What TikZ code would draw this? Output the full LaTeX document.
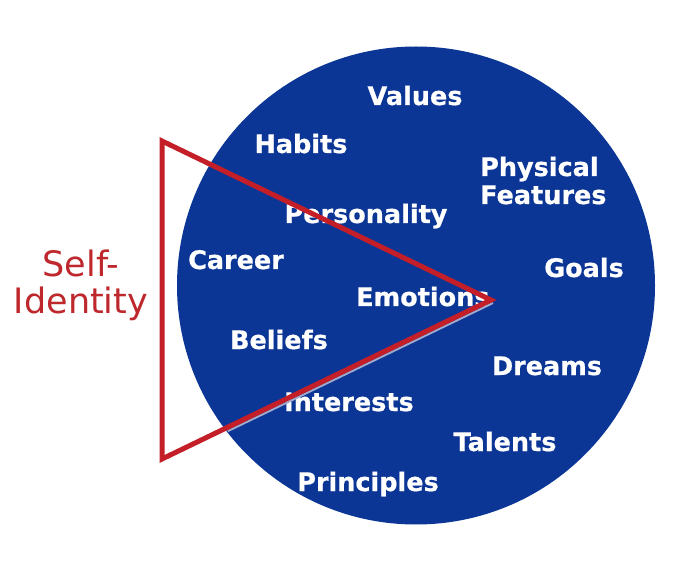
\documentclass[tikz,border=0pt]{standalone}
\usepackage{fontspec}
\setmainfont{DejaVu Sans}
\newfontfamily\labfont[FakeBold=0.6]{DejaVu Sans Bold}
\definecolor{discblue}{RGB}{12,54,150}
\definecolor{trired}{RGB}{196,30,40}
\definecolor{labred}{RGB}{190,40,45}
\definecolor{shadowcol}{RGB}{160,170,205}
\begin{document}
\begin{tikzpicture}[x=1pt,y=-1pt,
  lab/.style={text=white,font=\labfont\fontsize{25.5}{26}\selectfont,inner sep=0pt,anchor=base},
  labw/.style={lab,anchor=base west}]
\useasboundingbox (0,0) rectangle (686,572);
\fill[white] (0,0) rectangle (686,572);
\coordinate (c) at (416,285.5);
\fill[discblue] (c) circle[radius=239pt];
\node[lab] (values) at (415,105) {Values};
\node[lab] (habits) at (301,153) {Habits};
\node[labw] (phys) at (480,176) {Physical};
\node[labw] (feat) at (480,204) {Features};
\node[lab] (pers) at (366,223) {Personality};
\node[lab] (career) at (236,269) {Career};
\node[lab] (goals) at (584,277) {Goals};
\node[labw] (emo) at (356,306) {Emotions};
\node[lab] (beliefs) at (279,349) {Beliefs};
\node[lab] (dreams) at (547,375) {Dreams};
\node[lab] (inter) at (349,411) {Interests};
\node[lab] (talents) at (505,451) {Talents};
\node[lab] (princ) at (368,491) {Principles};
\node[text=labred,font=\fontsize{35}{37}\selectfont,align=center,inner sep=0pt,anchor=base] (self) at (81,314) {Self-\\Identity};
\coordinate (ta) at (162,141);
\coordinate (tb) at (162,459);
\coordinate (tc) at (491,300);
\begin{scope}
  \clip (c) circle[radius=238pt];
  \draw[shadowcol,line width=2pt] ([shift={(2,3)}]tc) -- ([shift={(2,3)}]tb);
\end{scope}
\draw[trired,line width=5pt,line join=miter] (ta) -- (tc) -- (tb) -- cycle;
\end{tikzpicture}
\end{document}
